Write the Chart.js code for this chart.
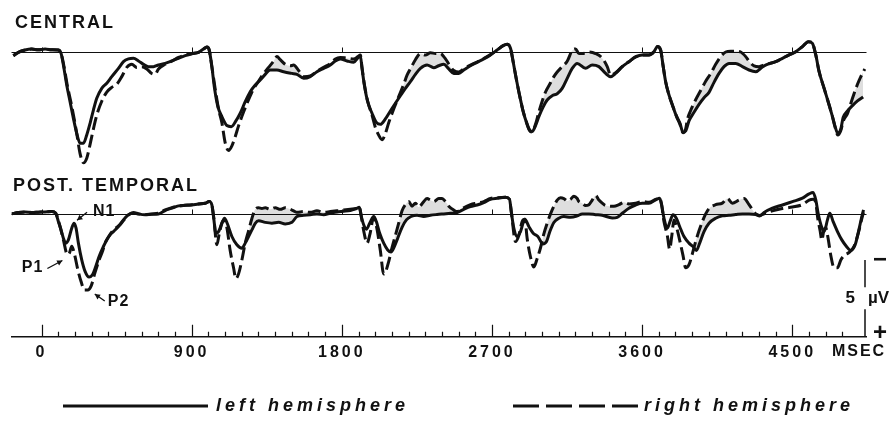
<!DOCTYPE html>
<html>
<head>
<meta charset="utf-8">
<title>Evoked potentials – left and right hemisphere</title>
<script src="https://cdn.jsdelivr.net/npm/chart.js@4.4.1/dist/chart.umd.min.js"></script>
<style>
  html, body { margin: 0; padding: 0; background: #fff; }
  #wrap { width: 890px; height: 436px; }
</style>
</head>
<body>
<div id="wrap"><canvas id="erp"></canvas></div>
<script>
// Averaged responses, [time in ms, amplitude in µV]; positive is drawn downward.
const centralLeft = [
  [-169, 0.24], [-139, 0.02], [-99, -0.13], [-59, -0.19], [-19, -0.15], [21, -0.19], [61, -0.15], [101, -0.13], [117, 0.09],
  [131, 0.84], [151, 2.14], [171, 3.23], [191, 4.31], [211, 5.28], [231, 5.93], [251, 5.93], [271, 5.39], [291, 4.63],
  [311, 3.77], [331, 3.01], [361, 2.36], [391, 2.03], [421, 1.60], [461, 1.06], [491, 0.63], [521, 0.45], [551, 0.41],
  [581, 0.58], [611, 0.80], [641, 0.95], [671, 0.95], [701, 0.84], [741, 0.74], [781, 0.58], [821, 0.41], [861, 0.24],
  [901, 0.11], [941, 0.02], [971, -0.19], [991, -0.32], [1005, -0.13],
  [1021, 0.95], [1037, 2.36], [1057, 3.55], [1081, 4.20], [1111, 4.78], [1137, 4.85], [1165, 4.48], [1191, 3.98],
  [1221, 3.23], [1251, 2.58], [1281, 2.14], [1311, 1.82], [1341, 1.45], [1371, 1.17], [1411, 1.17], [1451, 1.28],
  [1501, 1.39], [1531, 1.45], [1571, 1.71], [1611, 1.60], [1651, 1.28], [1691, 1.06], [1731, 0.84], [1761, 0.58],
  [1791, 0.45], [1831, 0.58], [1871, 0.67], [1897, 0.37], [1911, 0.24],
  [1921, 1.06], [1935, 2.14], [1955, 3.23], [1981, 3.98], [2007, 4.57], [2031, 4.70], [2061, 4.35], [2091, 3.83],
  [2121, 3.33], [2151, 2.84], [2181, 2.36], [2211, 1.93], [2241, 1.45], [2271, 1.06], [2311, 0.84], [2351, 1.02],
  [2381, 0.89], [2411, 0.80], [2441, 1.10], [2471, 1.39], [2501, 1.39], [2531, 1.17], [2571, 0.89], [2611, 0.67],
  [2651, 0.45], [2691, 0.19], [2731, -0.13], [2767, -0.41], [2791, -0.50], [2811, -0.24],
  [2827, 0.63], [2845, 1.71], [2865, 2.79], [2885, 3.77], [2905, 4.52], [2925, 5.06], [2941, 5.17], [2961, 4.78],
  [2981, 4.20], [3005, 3.61], [3031, 3.12], [3061, 2.84], [3091, 2.71], [3121, 2.36], [3151, 1.71], [3181, 1.06],
  [3211, 0.74], [3261, 1.06], [3301, 0.84], [3341, 0.95], [3381, 1.39], [3411, 1.60], [3441, 1.39], [3481, 0.95],
  [3521, 0.63], [3561, 0.32], [3601, 0.19], [3641, 0.19], [3671, -0.02], [3691, -0.35], [3711, -0.13],
  [3725, 0.84], [3741, 1.93], [3761, 2.79], [3785, 3.55], [3807, 4.20], [3827, 4.63], [3845, 5.22], [3861, 5.13],
  [3881, 4.48], [3911, 3.92], [3941, 3.40], [3971, 2.97], [4001, 2.62], [4031, 1.97], [4061, 1.39], [4091, 0.95],
  [4121, 0.74], [4161, 0.74], [4201, 0.95], [4241, 1.17], [4281, 1.28], [4321, 0.97], [4361, 0.76], [4401, 0.63],
  [4441, 0.41], [4481, 0.19], [4521, -0.02], [4561, -0.35], [4597, -0.67], [4621, -0.56],
  [4641, 0.19], [4661, 1.28], [4691, 2.36], [4721, 3.44], [4741, 4.20], [4757, 4.85], [4773, 5.28], [4791, 5.00],
  [4805, 4.26], [4831, 3.83], [4861, 3.48], [4891, 3.18], [4925, 2.92]
];

const centralRight = [
  [-169, 0.24], [-139, 0.02], [-99, -0.13], [-59, -0.19], [-19, -0.15], [21, -0.19], [61, -0.15], [101, -0.13], [117, 0.09],
  [135, 0.95], [155, 2.2], [175, 3.2], [195, 4.3], [211, 5.3], [231, 6.6], [251, 7.2], [271, 6.9], [291, 6.0],
  [311, 5.0], [331, 4.1], [361, 3.2], [391, 2.6], [421, 2.3], [451, 2.1], [481, 1.6], [511, 1.0], [541, 0.8],
  [571, 1.0], [601, 0.95], [631, 1.1], [661, 1.4], [681, 1.45], [701, 1.1], [741, 0.8], [781, 0.6], [821, 0.35],
  [861, 0.2], [901, 0.1], [941, 0.02], [971, -0.19], [991, -0.32], [1005, -0.13],
  [1021, 0.95], [1041, 2.4], [1061, 3.7], [1081, 4.6], [1101, 5.9], [1121, 6.4], [1141, 6.1], [1161, 5.5],
  [1181, 4.8], [1211, 3.9], [1241, 3.1], [1271, 2.4], [1301, 1.9], [1331, 1.4], [1361, 1.0], [1391, 0.6],
  [1411, 0.3], [1431, 0.5], [1461, 0.8], [1491, 0.9], [1511, 0.85], [1541, 1.2], [1571, 1.6], [1611, 1.55],
  [1651, 1.25], [1691, 1.0], [1731, 0.75], [1761, 0.45], [1791, 0.35], [1831, 0.4], [1871, 0.45], [1897, 0.3], [1911, 0.2],
  [1921, 1.0], [1935, 2.1], [1955, 3.2], [1981, 4.1], [2001, 4.9], [2021, 5.4], [2041, 5.7], [2061, 5.3],
  [2081, 4.6], [2111, 3.7], [2141, 2.9], [2171, 2.1], [2191, 1.5], [2211, 1.1], [2241, 0.5], [2271, 0.1],
  [2301, 0.2], [2331, 0.05], [2361, 0.1], [2391, 0.1], [2411, 0.3], [2431, 0.6], [2451, 0.95], [2471, 1.2],
  [2501, 1.3], [2531, 1.1], [2571, 0.85], [2611, 0.65], [2651, 0.42], [2691, 0.17], [2731, -0.13], [2767, -0.41],
  [2791, -0.5], [2811, -0.24],
  [2827, 0.63], [2845, 1.71], [2865, 2.79], [2885, 3.77], [2905, 4.5], [2925, 5.1], [2941, 5.2], [2961, 4.7],
  [2981, 3.9], [3001, 3.2], [3021, 2.6], [3051, 2.0], [3071, 1.6], [3091, 1.3], [3121, 0.95], [3151, 0.6],
  [3181, -0.1], [3201, -0.2], [3221, 0.1], [3241, 0.1], [3281, 0.0], [3321, 0.1], [3361, 0.4], [3391, 0.95],
  [3411, 1.5], [3441, 1.35], [3481, 0.95], [3521, 0.63], [3561, 0.32], [3601, 0.19], [3641, 0.19], [3671, -0.02],
  [3691, -0.35], [3711, -0.13],
  [3725, 0.84], [3741, 1.93], [3761, 2.79], [3785, 3.55], [3807, 4.2], [3827, 4.7], [3845, 5.25], [3861, 5.0],
  [3871, 4.4], [3891, 3.8], [3921, 3.1], [3951, 2.5], [3981, 1.9], [4011, 1.4], [4041, 0.8], [4071, 0.3],
  [4101, 0.0], [4131, -0.05], [4161, -0.05], [4191, 0.0], [4221, 0.3], [4241, 0.6], [4271, 0.9], [4301, 0.95],
  [4331, 0.85], [4361, 0.76], [4401, 0.63], [4441, 0.41], [4481, 0.19], [4521, -0.02], [4561, -0.35], [4597, -0.67],
  [4621, -0.56],
  [4641, 0.19], [4661, 1.28], [4691, 2.36], [4721, 3.44], [4741, 4.2], [4757, 4.9], [4773, 5.4], [4791, 5.1],
  [4805, 4.5], [4831, 4.0], [4861, 3.0], [4891, 2.1], [4911, 1.6], [4935, 1.1]
];

const temporalLeft = [
  [-179, 0], [-139, -0.09], [-99, -0.13], [-59, -0.09], [-19, -0.11], [21, -0.13], [61, -0.15], [85, -0.04],
  [101, 0.5], [117, 1.04], [131, 1.58], [145, 1.9], [161, 1.69], [181, 0.93], [195, 0.61], [207, 0.93],
  [221, 1.9], [241, 2.99], [261, 3.74], [285, 4.11], [305, 3.96], [325, 3.42], [345, 2.77], [371, 2.12],
  [391, 1.69], [411, 1.36], [431, 1.15], [461, 0.82], [491, 0.39], [521, 0.06], [551, -0.09], [581, 0],
  [621, 0.06], [661, 0.02], [701, 0], [741, -0.22], [781, -0.37], [821, -0.52], [861, -0.56], [901, -0.58],
  [941, -0.65], [981, -0.69], [1005, -0.8], [1021, -0.58],
  [1031, 0.17], [1045, 1.26], [1061, 1.15], [1081, 0.61], [1097, 0.28], [1113, 0.61], [1141, 1.47], [1171, 2.01],
  [1201, 2.23], [1221, 1.9], [1241, 1.47], [1261, 1.04], [1281, 0.61], [1301, 0.45], [1341, 0.55], [1381, 0.6],
  [1421, 0.55], [1461, 0.65], [1501, 0.55], [1531, 0.17], [1571, 0.09], [1611, 0.06], [1651, 0], [1691, 0.06],
  [1731, -0.04], [1771, -0.13], [1811, -0.17], [1851, -0.22], [1887, -0.35], [1905, -0.43],
  [1917, 0.17], [1931, 0.71], [1947, 1.0], [1967, 0.61], [1991, 0.17], [2007, 0.5], [2027, 1.26], [2051, 1.9],
  [2075, 2.34], [2095, 2.47], [2115, 2.12], [2135, 1.58], [2161, 0.87], [2187, 0.39], [2215, 0.17], [2251, 0.09],
  [2291, 0.17], [2331, 0.09], [2371, 0.04], [2411, 0], [2451, -0.04], [2491, -0.09], [2531, -0.3], [2571, -0.48],
  [2611, -0.58], [2651, -0.74], [2691, -0.95], [2731, -1.02], [2781, -1.08], [2805, -0.95],
  [2817, -0.04], [2831, 0.93], [2851, 1.47], [2871, 1.15], [2897, 0.35], [2921, 0.82], [2947, 1.26], [2975, 1.47],
  [3005, 1.95], [3027, 1.8], [3047, 1.15], [3071, 0.56], [3101, 0.28], [3131, 0.17], [3171, 0.22], [3211, 0.13],
  [3241, 0], [3281, 0], [3321, 0.05], [3361, 0.09], [3421, 0.26], [3451, 0.22], [3481, -0.04], [3521, -0.37],
  [3561, -0.58], [3601, -0.69], [3641, -0.69], [3681, -0.91], [3705, -1.02],
  [3717, -0.58], [3731, 0.28], [3751, 0.93], [3767, 0.5], [3785, 0.06], [3805, 0.28], [3825, 0.82], [3851, 1.47],
  [3881, 1.9], [3905, 2.12], [3925, 2.38], [3945, 1.9], [3971, 1.15], [4001, 0.61], [4041, 0.28], [4081, 0.13],
  [4121, 0.09], [4161, 0.04], [4201, 0], [4241, 0], [4281, 0.04], [4305, 0.13], [4331, -0.09], [4381, -0.37],
  [4441, -0.58], [4501, -0.8], [4561, -1.02], [4601, -1.3], [4625, -1.39],
  [4641, -0.91], [4655, -0.04], [4675, 0.82], [4691, 1.15], [4711, 0.39], [4725, -0.04], [4745, 0.5], [4771, 1.15],
  [4797, 1.69], [4825, 2.12], [4851, 2.38], [4877, 2.01], [4897, 1.15], [4917, 0.17], [4927, -0.26]
];

const temporalRight = [
  [-179, 0], [-139, -0.09], [-99, -0.13], [-59, -0.09], [-19, -0.11], [21, -0.13], [61, -0.15], [85, -0.04],
  [111, 0.82], [131, 1.69], [155, 2.64], [167, 2.55], [181, 2.1], [197, 2.6], [217, 3.6], [237, 4.4],
  [257, 4.95], [277, 4.95], [297, 4.7], [321, 3.8], [345, 3.0], [365, 2.45], [381, 1.9], [401, 1.5],
  [431, 1.05], [471, 0.7], [501, 0.3], [541, -0.05], [581, 0], [621, 0.04], [661, 0], [701, -0.04],
  [741, -0.26], [781, -0.4], [821, -0.52], [861, -0.56], [901, -0.6], [941, -0.65], [981, -0.69], [1005, -0.8], [1021, -0.58],
  [1033, 0.3], [1051, 2.0], [1065, 1.3], [1081, 0.6], [1095, 0.4], [1111, 0.9], [1131, 2.4], [1151, 3.5],
  [1165, 4.2], [1181, 3.9], [1201, 3.0], [1221, 1.9], [1241, 1.1], [1261, 0.3], [1281, -0.3], [1301, -0.4],
  [1321, -0.35], [1341, -0.4], [1371, -0.3], [1401, -0.4], [1431, -0.3], [1461, -0.4], [1491, -0.3], [1511, -0.2],
  [1531, -0.1], [1571, -0.15], [1611, -0.1], [1651, -0.2], [1691, -0.1], [1731, -0.15], [1771, -0.2], [1811, -0.25],
  [1851, -0.3], [1887, -0.35], [1905, -0.43],
  [1917, 0.2], [1933, 1.2], [1951, 1.9], [1969, 1.3], [1991, 0.2], [2011, 1.0], [2031, 2.4], [2051, 3.9],
  [2061, 3.8], [2081, 3.1], [2101, 2.2], [2121, 1.4], [2141, 0.6], [2161, -0.2], [2181, -0.6], [2201, -0.8],
  [2221, -0.5], [2241, -0.7], [2261, -0.45], [2291, -0.8], [2311, -1.0], [2331, -0.9], [2351, -0.8], [2381, -1.0],
  [2401, -1.0], [2421, -0.8], [2441, -0.5], [2471, -0.25], [2491, -0.15], [2511, -0.25], [2531, -0.4], [2571, -0.6],
  [2611, -0.7], [2651, -0.8], [2691, -1.0], [2731, -1.05], [2781, -1.08], [2805, -0.95],
  [2817, -0.04], [2841, 1.8], [2861, 1.4], [2881, 0.5], [2897, 0.35], [2911, 1.6], [2931, 2.8], [2951, 3.45],
  [2971, 2.9], [2991, 2.2], [3011, 1.3], [3031, 0.6], [3051, 0], [3071, -0.5], [3091, -0.9], [3111, -1.05],
  [3131, -1.0], [3151, -0.85], [3171, -0.95], [3191, -1.15], [3211, -1.0], [3221, -0.8], [3241, -0.7], [3261, -0.55],
  [3281, -0.6], [3301, -0.9], [3321, -1.2], [3341, -0.9], [3361, -0.7], [3381, -0.55], [3431, -0.5], [3461, -0.6],
  [3491, -0.75], [3521, -0.65], [3561, -0.7], [3601, -0.8], [3641, -0.75], [3681, -0.95], [3705, -1.02],
  [3717, -0.6], [3731, 0.5], [3751, 1.4], [3765, 2.3], [3777, 1.5], [3791, 0.4], [3807, 0.9], [3825, 1.7],
  [3845, 2.7], [3861, 3.5], [3881, 3.3], [3901, 2.6], [3921, 1.8], [3941, 1.1], [3961, 0.5], [3981, 0],
  [4001, -0.35], [4041, -0.6], [4081, -0.7], [4111, -1.0], [4141, -0.7], [4181, -0.9], [4211, -1.0], [4241, -0.6],
  [4281, 0], [4305, 0.1], [4331, 0], [4381, -0.2], [4441, -0.35], [4501, -0.45], [4561, -0.6], [4601, -0.9], [4625, -0.95],
  [4641, -0.7], [4653, 0.3], [4667, 1.1], [4677, 1.7], [4689, 1.1], [4701, 0.9], [4715, 1.6], [4731, 2.7],
  [4751, 3.5], [4771, 3.5], [4791, 3.0], [4811, 2.7], [4841, 2.5], [4871, 2.1], [4897, 1.2], [4917, 0.3], [4927, -0.1]
];

const panelTitles = ['CENTRAL', 'POST. TEMPORAL'];
const seriesNames = ['left hemisphere', 'right hemisphere'];
const timeUnit = 'MSEC';
const majorStep = 900;   // labelled every 900 ms
const minorStep = 100;   // small ticks every 100 ms
const calibrationUv = 5;

const INK = '#111';
const FONT = '"Liberation Sans", Arial, sans-serif';
const DASH = [13, 5];
const KEY_DASH = [26, 7];

const toPoints = rows => rows.map(([x, y]) => ({ x, y }));

function arrow(ctx, x1, y1, x2, y2) {
  const a = Math.atan2(y2 - y1, x2 - x1);
  ctx.beginPath();
  ctx.moveTo(x1, y1);
  ctx.lineTo(x2, y2);
  ctx.stroke();
  ctx.beginPath();
  ctx.moveTo(x2, y2);
  ctx.lineTo(x2 - 6 * Math.cos(a - 0.5), y2 - 6 * Math.sin(a - 0.5));
  ctx.lineTo(x2 - 6 * Math.cos(a + 0.5), y2 - 6 * Math.sin(a + 0.5));
  ctx.closePath();
  ctx.fill();
}

// zero lines, time ticks, titles, component labels, calibration bar and key
const decorations = {
  id: 'decorations',
  beforeDraw(chart) {
    chart.ctx.letterSpacing = '3px';
  },
  beforeDatasetsDraw(chart) {
    const { ctx, chartArea, scales } = chart;
    const x = scales.x;
    ctx.save();
    ctx.strokeStyle = INK;
    ctx.lineWidth = 1;
    for (const id of ['yC', 'yT']) {
      const y0 = Math.round(scales[id].getPixelForValue(0)) + 0.5;
      ctx.beginPath();
      ctx.moveTo(chartArea.left, y0);
      ctx.lineTo(chartArea.right, y0);
      for (const t of x.ticks) {
        if (t.value >= 0 && t.value % majorStep === 0) {
          const px = Math.round(x.getPixelForValue(t.value)) + 0.5;
          ctx.moveTo(px, y0);
          ctx.lineTo(px, y0 - 5);
        }
      }
      ctx.stroke();
    }
    // time axis ticks point up from the axis line
    const yb = chartArea.bottom;
    ctx.lineWidth = 1.2;
    ctx.beginPath();
    for (const t of x.ticks) {
      if (t.value < 0 || t.value % minorStep !== 0) continue;
      const px = Math.round(x.getPixelForValue(t.value)) + 0.5;
      ctx.moveTo(px, yb);
      ctx.lineTo(px, yb - (t.value % majorStep === 0 ? 12 : 5));
    }
    ctx.stroke();
    ctx.restore();
  },
  afterDraw(chart) {
    const { ctx, chartArea, scales } = chart;
    const x = scales.x, yC = scales.yC, yT = scales.yT;
    ctx.save();
    ctx.fillStyle = INK;
    ctx.strokeStyle = INK;
    ctx.textBaseline = 'middle';

    // panel titles
    ctx.font = `bold 18px ${FONT}`;
    ctx.letterSpacing = '2px';
    ctx.textAlign = 'left';
    ctx.fillText(panelTitles[0], 15, yC.top - 13);
    ctx.fillText(panelTitles[1], 13, yT.top + 6);

    // component labels on the first temporal response
    ctx.font = `bold 16px ${FONT}`;
    ctx.letterSpacing = '1px';
    ctx.lineWidth = 1.3;
    const n1 = { x: x.getPixelForValue(195), y: yT.getPixelForValue(0.61) };
    ctx.fillText('N1', n1.x + 19, n1.y - 12);
    arrow(ctx, n1.x + 13, n1.y - 11, n1.x + 3, n1.y - 3);
    const p1 = { x: x.getPixelForValue(155), y: yT.getPixelForValue(2.64) };
    ctx.textAlign = 'right';
    ctx.fillText('P1', p1.x - 24, p1.y + 13);
    arrow(ctx, p1.x - 20, p1.y + 14, p1.x - 5, p1.y + 6);
    const p2 = { x: x.getPixelForValue(277), y: yT.getPixelForValue(4.95) };
    ctx.textAlign = 'left';
    ctx.fillText('P2', p2.x + 20, p2.y + 12);
    arrow(ctx, p2.x + 17, p2.y + 11, p2.x + 7, p2.y + 4);

    // calibration bar: 5 µV up from the time axis
    const bx = chartArea.right - 1.5;
    const bBot = chartArea.bottom;
    const bTop = bBot - (yT.getPixelForValue(calibrationUv) - yT.getPixelForValue(0));
    const mid = (bTop + bBot) / 2;
    ctx.lineWidth = 1.5;
    ctx.beginPath();
    ctx.moveTo(bx, bTop); ctx.lineTo(bx, mid - 11);
    ctx.moveTo(bx, mid + 11); ctx.lineTo(bx, bBot);
    ctx.stroke();
    ctx.font = `bold 17px ${FONT}`;
    ctx.letterSpacing = '0px';
    ctx.textAlign = 'right';
    ctx.fillText(String(calibrationUv), bx - 10, mid);
    ctx.textAlign = 'left';
    ctx.fillText('µV', bx + 3, mid);
    ctx.font = `bold 24px ${FONT}`;
    ctx.textAlign = 'center';
    ctx.fillText('−', bx + 15, bTop);
    ctx.fillText('+', bx + 15, bBot - 3);

    // unit after the last time label
    ctx.font = `bold 16px ${FONT}`;
    ctx.letterSpacing = '2px';
    ctx.fillText(timeUnit, bx - 6, chartArea.bottom + 15);

    // key
    const ky = 406;
    ctx.lineWidth = 3;
    ctx.beginPath();
    ctx.moveTo(63, ky); ctx.lineTo(208, ky);
    ctx.stroke();
    ctx.setLineDash(KEY_DASH);
    ctx.beginPath();
    ctx.moveTo(513, ky); ctx.lineTo(639, ky);
    ctx.stroke();
    ctx.setLineDash([]);
    ctx.font = `italic bold 18px ${FONT}`;
    ctx.letterSpacing = '4px';
    ctx.textAlign = 'left';
    ctx.fillText(seriesNames[0], 216, ky);
    ctx.fillText(seriesNames[1], 644, ky);
    ctx.restore();
  }
};

const trace = (label, rows, yAxisID, dashed, fill) => ({
  label,
  data: toPoints(rows),
  yAxisID,
  borderColor: INK,
  borderWidth: 3,
  borderDash: dashed ? DASH : [],
  borderJoinStyle: 'round',
  pointRadius: 0,
  cubicInterpolationMode: 'monotone',
  fill: fill === undefined ? false : { target: fill, above: 'rgba(0,0,0,0.13)', below: 'rgba(0,0,0,0)' }
});

new Chart(document.getElementById('erp'), {
  type: 'line',
  data: {
    datasets: [
      trace(seriesNames[0], centralLeft, 'yC', false),
      trace(seriesNames[1], centralRight, 'yC', true, 0),
      trace(seriesNames[0], temporalLeft, 'yT', false),
      trace(seriesNames[1], temporalRight, 'yT', true, 2)
    ]
  },
  options: {
    responsive: true,
    maintainAspectRatio: false,
    animation: false,
    events: [],
    layout: { padding: { left: 11.5, right: 23.5, top: 36, bottom: 68 } },
    plugins: { legend: { display: false }, tooltip: { enabled: false } },
    scales: {
      x: {
        type: 'linear',
        min: -180,
        max: 4945,
        grid: { display: false, drawTicks: false },
        border: { display: true, color: INK, width: 1.5 },
        ticks: {
          stepSize: minorStep,
          autoSkip: false,
          maxRotation: 0,
          padding: 6,
          color: INK,
          font: { family: FONT, size: 16, weight: 'bold' },
          callback: v => (v >= 0 && v % majorStep === 0) ? String(v) : ''
        }
      },
      yC: {
        type: 'linear', display: false, position: 'left',
        stack: 'panels', stackWeight: 144, weight: 1,
        reverse: true, min: -1.04, max: 8.31
      },
      yT: {
        type: 'linear', display: false, position: 'left',
        stack: 'panels', stackWeight: 157, weight: 0,
        reverse: true, min: -2.21, max: 7.99
      }
    }
  },
  plugins: [decorations]
});
</script>
</body>
</html>
